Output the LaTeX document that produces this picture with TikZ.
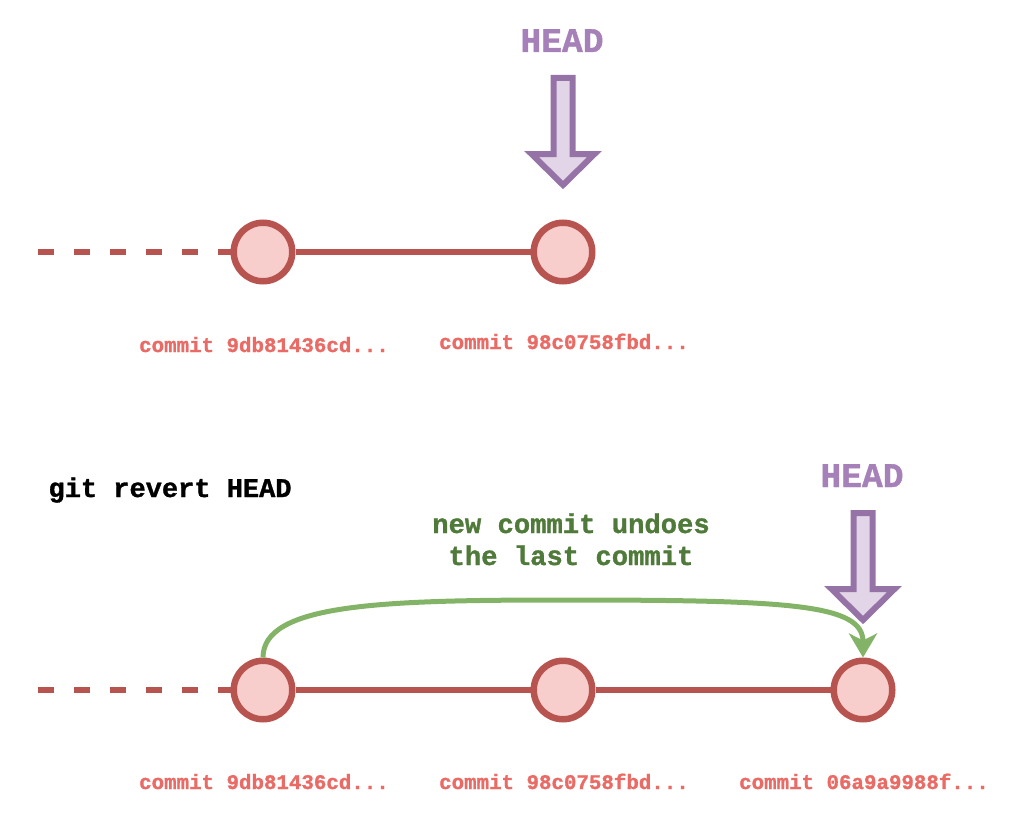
\documentclass[tikz,border=0pt]{standalone}
\usepackage{fontspec}
\setmonofont{Liberation Mono}[BoldFeatures={FakeBold=1.2}]
\usetikzlibrary{arrows.meta}
\definecolor{cmtline}{HTML}{B85450}
\definecolor{cmtfill}{HTML}{F8CECC}
\definecolor{cmttext}{HTML}{EA6B66}
\definecolor{ptrline}{HTML}{9673A6}
\definecolor{ptrfill}{HTML}{E1D5E7}
\definecolor{ptrtext}{HTML}{A680B8}
\definecolor{undoline}{HTML}{82B366}
\definecolor{undotext}{HTML}{4F7A3A}
\tikzset{
  cmt/.style={circle,draw=cmtline,fill=cmtfill,line width=6.5pt,minimum size=58.5pt,inner sep=0pt},
  link/.style={draw=cmtline,line width=6pt},
  past/.style={link,dash pattern=on 16pt off 20pt},
  cmtlabel/.style={anchor=base,text=cmttext,font=\ttfamily\bfseries\fontsize{20.8}{24}\selectfont},
  headlabel/.style={anchor=base,text=ptrtext,font=\ttfamily\bfseries\fontsize{34.6}{40}\selectfont},
  ptr/.style={draw=ptrline,fill=ptrfill,line width=6pt,miter limit=20},
  headptr/.pic={\path[ptr] (-9.5,0) -- (-9.5,76) -- (-31.5,76) -- (0,107) -- (31.5,76) -- (9.5,76) -- (9.5,0) -- cycle;},
  undo/.style={draw=undoline,line width=5pt,-{Stealth[length=24pt,width=28pt,inset=7pt]}}
}
\begin{document}
\begin{tikzpicture}[x=1pt,y=-1pt]
\useasboundingbox (0,0) rectangle (1017,824);

% before
\node[headlabel] (head1) at (562,52) {HEAD};
\pic at (563,78) {headptr};
\coordinate (tail1) at (38,252);
\node[cmt] (c1) at (263,252) {};
\node[cmt] (c2) at (563,252) {};
\draw[past] (tail1) -- (c1);
\draw[link] (c1) -- (c2);
\node[cmtlabel] (l1) at (264,352) {commit 9db81436cd...};
\node[cmtlabel] (l2) at (564,349) {commit 98c0758fbd...};

% after git revert
\node[anchor=base west,font=\ttfamily\bfseries\fontsize{27}{32}\selectfont] (cmd) at (45,497) {git revert HEAD};
\node[headlabel] (head2) at (862,487) {HEAD};
\pic at (863,513) {headptr};
\coordinate (tail2) at (38,690);
\node[cmt] (d1) at (263,690) {};
\node[cmt] (d2) at (563,690) {};
\node[cmt] (d3) at (863,690) {};
\draw[past] (tail2) -- (d1);
\draw[link] (d1) -- (d2);
\draw[link] (d2) -- (d3);
\node[cmtlabel] (m1) at (264,789) {commit 9db81436cd...};
\node[cmtlabel] (m2) at (564,789) {commit 98c0758fbd...};
\node[cmtlabel] (m3) at (864,789) {commit 06a9a9988f...};
\draw[undo] (d1.north) .. controls (263,604) and (380,600) .. (563,600) .. controls (790,600) and (863,604) .. (d3.north);
\node[anchor=base,align=center,text=undotext,font=\ttfamily\bfseries\fontsize{27.2}{32}\selectfont] (note) at (571,565) {new commit undoes\\the last commit};
\end{tikzpicture}
\end{document}
